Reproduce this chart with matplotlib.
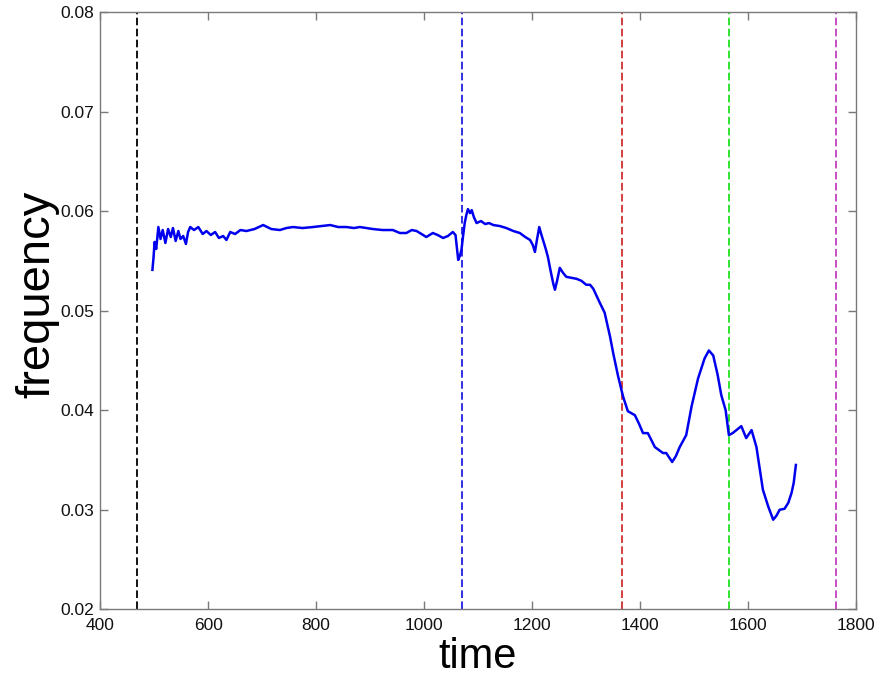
"""Frequency over time with event markers (MATLAB-style figure)."""

import matplotlib

matplotlib.use("Agg")
import matplotlib.pyplot as plt

# traced curve: time vs frequency
time = [
    497, 499, 501, 504, 508, 512, 516, 521, 526, 531, 535, 540, 545, 549,
    554, 559, 563, 567, 574, 582, 590, 597, 605, 613, 620, 628, 634, 641,
    650, 660, 671, 686, 702, 717, 733, 745, 757, 775, 794, 810, 826, 841,
    856, 870, 881, 893, 905, 923, 942, 955, 967, 977, 986, 995, 1004, 1010,
    1016, 1025, 1035, 1044, 1053, 1058, 1063, 1066, 1069, 1072, 1075, 1078,
    1081, 1085, 1088, 1092, 1097, 1105, 1113, 1120, 1128, 1140, 1152, 1165,
    1177, 1187, 1196, 1201, 1205, 1209, 1213, 1216, 1220, 1225, 1229, 1234,
    1239, 1242, 1246, 1251, 1257, 1263, 1272, 1282, 1291, 1300, 1307, 1313,
    1319, 1325, 1334, 1344, 1350, 1359, 1368, 1377, 1390, 1398, 1405, 1414,
    1427, 1442, 1448, 1459, 1466, 1473, 1485, 1495, 1507, 1519, 1527, 1535,
    1543, 1550, 1558, 1564, 1571, 1587, 1596, 1606, 1615, 1627, 1637, 1646,
    1652, 1658, 1667, 1674, 1680, 1684, 1688,
]
freq = [
    0.0541, 0.0553, 0.0569, 0.0562, 0.0584, 0.0572, 0.0581, 0.0568, 0.0582,
    0.0574, 0.0583, 0.0570, 0.0580, 0.0572, 0.0575, 0.0567, 0.0579, 0.0584,
    0.0581, 0.0584, 0.0577, 0.0580, 0.0576, 0.0579, 0.0573, 0.0575, 0.0571,
    0.0579, 0.0577, 0.0581, 0.0580, 0.0582, 0.0586, 0.0582, 0.0581, 0.0583,
    0.0584, 0.0583, 0.0584, 0.0585, 0.0586, 0.0584, 0.0584, 0.0583, 0.0584,
    0.0583, 0.0582, 0.0581, 0.0581, 0.0578, 0.0578, 0.0581, 0.0580, 0.0577,
    0.0574, 0.0576, 0.0578, 0.0576, 0.0573, 0.0575, 0.0579, 0.0576, 0.0551,
    0.0555, 0.0561, 0.0575, 0.0588, 0.0596, 0.0602, 0.0598, 0.0601, 0.0594,
    0.0588, 0.0590, 0.0587, 0.0588, 0.0586, 0.0585, 0.0583, 0.0580, 0.0578,
    0.0574, 0.0571, 0.0566, 0.0559, 0.0572, 0.0584, 0.0578, 0.0571, 0.0562,
    0.0554, 0.0540, 0.0527, 0.0521, 0.0530, 0.0543, 0.0538, 0.0534, 0.0533,
    0.0532, 0.0530, 0.0526, 0.0526, 0.0522, 0.0515, 0.0508, 0.0498, 0.0474,
    0.0457, 0.0434, 0.0414, 0.0399, 0.0395, 0.0386, 0.0377, 0.0377, 0.0363,
    0.0357, 0.0357, 0.0348, 0.0354, 0.0363, 0.0375, 0.0404, 0.0432, 0.0452,
    0.0460, 0.0455, 0.0436, 0.0415, 0.0400, 0.0375, 0.0377, 0.0384, 0.0372,
    0.0380, 0.0363, 0.0320, 0.0303, 0.0290, 0.0294, 0.0300, 0.0301, 0.0307,
    0.0317, 0.0327, 0.0345,
]

# vertical event markers
event_times = [469, 1070, 1366, 1564, 1762]
event_colors = ["#000000", "#2020e0", "#d03030", "#20e020", "#c040c0"]

plt.rcParams["font.family"] = ["Liberation Sans", "DejaVu Sans"]

fig = plt.figure(figsize=(8.93, 6.78), dpi=100)
ax = fig.add_axes([0.112, 0.1013, 0.847, 0.8810])

for t, c in zip(event_times, event_colors):
    ax.axvline(t, color=c, lw=1.3, linestyle=(0, (4.2, 1.9)))

ax.plot(time, freq, color="#0000ee", lw=1.8)

ax.set_xlim(400, 1800)
ax.set_ylim(0.02, 0.08)
ax.set_xticks(range(400, 1801, 200))
ax.set_yticks([0.02, 0.03, 0.04, 0.05, 0.06, 0.07, 0.08])
ax.set_yticklabels(["0.02", "0.03", "0.04", "0.05", "0.06", "0.07", "0.08"])

for s in ax.spines.values():
    s.set_color("#7a7a7a")
    s.set_linewidth(1.0)
ax.tick_params(direction="in", length=6, width=1.0, color="#7a7a7a",
               top=True, right=True, labelsize=12.5, labelcolor="#111111")
ax.tick_params(axis="x", pad=6)
ax.tick_params(axis="y", pad=4)

fig.text(477.5 / 893, 1 - 668 / 678, "time", fontsize=30,
         ha="center", va="baseline")
fig.text(37 / 893, 1 - 294 / 678, "frequency", fontsize=34,
         rotation=90, ha="center", va="center")

fig.savefig("out.png", dpi=100)
plt.close(fig)
